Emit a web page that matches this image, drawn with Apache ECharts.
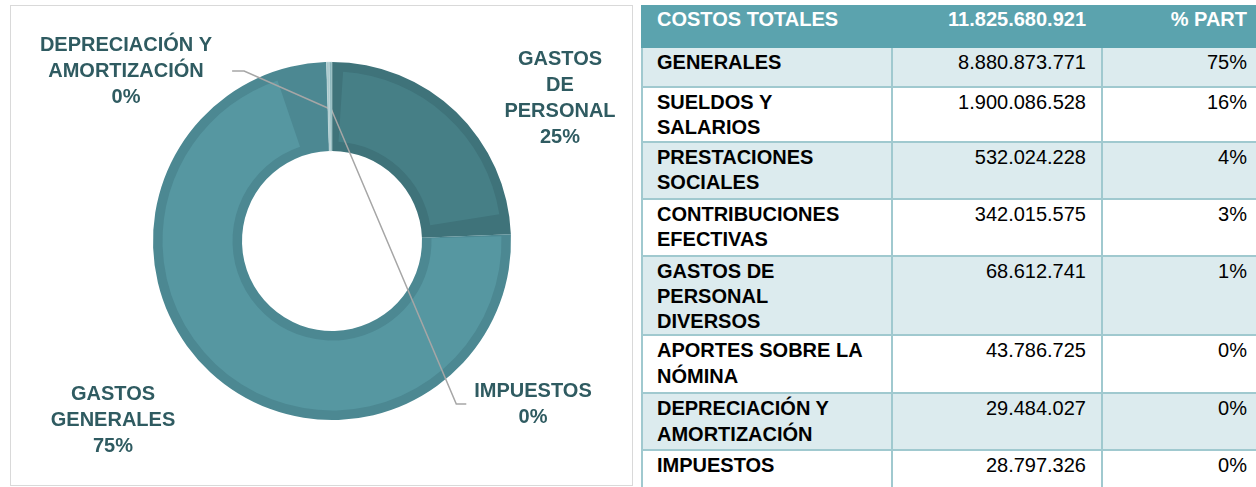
<!DOCTYPE html>
<html>
<head>
<meta charset="utf-8">
<script src="https://cdn.jsdelivr.net/npm/echarts@6/dist/echarts.min.js"></script>
<style>
  html, body { margin: 0; padding: 0; background: #fff; }
  body { width: 1256px; height: 487px; position: relative; overflow: hidden; font-family: "Liberation Sans", Arial, sans-serif; }
  .frame { position: absolute; left: 10px; top: 5px; width: 621px; height: 479px; border: 1px solid #d9d9d9; }
  #pie_chart { position: absolute; left: 0; top: 0; width: 640px; height: 487px; }
  table { position: absolute; left: 641px; top: 5px; border-collapse: collapse; table-layout: fixed; width: 619px; font-size: 20px; line-height: 25.3px; }
  td { border: 2px solid #a0c9cf; vertical-align: top; padding: 2px 14px 0 14px; white-space: pre-line; color: #000; }
  td.name { font-weight: bold; }
  td.num { text-align: right; padding-right: 15px; }
  td.pct { text-align: right; padding-right: 13px; }
  tr.head td { background: #5ba3ae; border-color: #5ba3ae; color: #fff; font-weight: bold; padding-top: 0; }
  tr.odd td { background: #dcebee; }
</style>
</head>
<body>
<div class="frame"></div>
<div id="pie_chart"></div>
<table id="cost_table">
  <colgroup><col style="width:250px"><col style="width:210px"><col style="width:159px"></colgroup>
  <tbody></tbody>
</table>
<script>
// pie data
const categories = ['GASTOS DE PERSONAL', 'GASTOS GENERALES', 'DEPRECIACIÓN Y AMORTIZACIÓN', 'IMPUESTOS'];
const labelNames = ['GASTOS\nDE\nPERSONAL', 'GASTOS\nGENERALES', 'DEPRECIACIÓN Y\nAMORTIZACIÓN', 'IMPUESTOS'];
const values = [2886525797, 8880873771, 29484027, 28797326];
const pctLabels = ['25%', '75%', '0%', '0%'];

// table data
const totalLabel = 'COSTOS TOTALES';
const totalValue = 11825680921;
const totalPctLabel = '% PART';
const rowNames = ['GENERALES', 'SUELDOS Y\nSALARIOS', 'PRESTACIONES\nSOCIALES', 'CONTRIBUCIONES\nEFECTIVAS',
  'GASTOS DE\nPERSONAL\nDIVERSOS', 'APORTES SOBRE LA\nNÓMINA', 'DEPRECIACIÓN Y\nAMORTIZACIÓN', 'IMPUESTOS'];
const rowValues = [8880873771, 1900086528, 532024228, 342015575, 68612741, 43786725, 29484027, 28797326];
const rowPcts = ['75%', '16%', '4%', '3%', '1%', '0%', '0%', '0%'];

// layout
const headHeight = 41;
const rowHeights = [40, 52, 57, 57, 76, 58, 57, 40];
const frameColors = ['#3f737a', '#4c8892', '#a9c9cd', '#8cb6bc'];
const fillColors = ['#467f86', '#5697a1', '#a9c9cd', '#8cb6bc'];
const labelPos = [
  { x: 560, y: 98 },
  { x: 113, y: 420 },
  { x: 126, y: 71, side: 'right', gap: 20, elbow: 12 },
  { x: 533, y: 404, side: 'left', gap: 8, elbow: 10 },
];
const thin = [false, false, true, true];
const center = [332, 241];
const ring = [90, 179];
const edge = 9.5;

function fmt(n) {
  return String(n).replace(/\B(?=(\d{3})+(?!\d))/g, '.');
}

// build table
const tbody = document.querySelector('#cost_table tbody');
let html = '<tr class="head" style="height:' + headHeight + 'px"><td class="name">' + totalLabel + '</td><td class="num">' +
  fmt(totalValue) + '</td><td class="pct">' + totalPctLabel + '</td></tr>';
rowNames.forEach((name, i) => {
  html += '<tr class="' + (i % 2 === 0 ? 'odd' : 'even') + '" style="height:' + rowHeights[i] + 'px">' +
    '<td class="name">' + name + '</td><td class="num">' + fmt(rowValues[i]) + '</td><td class="pct">' + rowPcts[i] + '</td></tr>';
});
tbody.innerHTML = html;

// point in the middle of a slice, for the leader lines
const total = values.reduce((a, b) => a + b, 0);
function slicePoint(idx) {
  let before = 0;
  for (let i = 0; i < idx; i++) before += values[i];
  const a = (before + values[idx] / 2) / total * Math.PI * 2;
  const r = (ring[0] + ring[1]) / 2 - 2;
  return [center[0] + r * Math.sin(a), center[1] - r * Math.cos(a)];
}

// pie
const chartInstance = echarts.init(document.getElementById('pie_chart'));

const option = {
  animation: false,
  series: [
    {
      // darker frame of each slice
      type: 'pie',
      silent: true,
      center: center,
      radius: ring,
      startAngle: 90,
      label: { show: false },
      labelLine: { show: false },
      data: categories.map((name, i) => ({ name: name, value: values[i], itemStyle: { color: frameColors[i] } })),
    },
    {
      // lighter inner fill
      type: 'pie',
      silent: true,
      center: center,
      radius: [ring[0] + edge, ring[1] - edge],
      startAngle: 90,
      padAngle: 7.5,
      label: { show: false },
      labelLine: { show: false },
      data: categories.map((name, i) => ({
        name: name,
        value: values[i],
        itemStyle: { color: thin[i] ? 'rgba(0,0,0,0)' : fillColors[i] },
      })),
    },
    {
      // thin slices on top + labels
      type: 'pie',
      z: 5,
      center: center,
      radius: ring,
      startAngle: 90,
      avoidLabelOverlap: false,
      label: {
        show: true,
        position: 'outside',
        fontFamily: 'Liberation Sans, Arial, sans-serif',
        fontWeight: 'bold',
        fontSize: 20,
        lineHeight: 26,
        color: '#2f5b61',
        align: 'center',
        formatter: (p) => labelNames[p.dataIndex] + '\n' + pctLabels[p.dataIndex],
      },
      labelLine: { show: false, lineStyle: { color: '#a6a6a6', width: 1.5 } },
      labelLayout: function (params) {
        const p = labelPos[params.dataIndex];
        const out = { x: p.x, y: p.y, align: 'center', verticalAlign: 'middle' };
        if (p.side) {
          const half = params.labelRect.width / 2;
          const s = slicePoint(params.dataIndex);
          const ex = p.side === 'right' ? p.x + half + p.gap : p.x - half - p.gap;
          const bx = p.side === 'right' ? ex + p.elbow : ex - p.elbow;
          out.labelLinePoints = [s, [bx, p.y], [ex, p.y]];
        }
        return out;
      },
      data: categories.map((name, i) => ({
        name: name,
        value: values[i],
        itemStyle: thin[i]
          ? { color: fillColors[i], borderColor: '#cfe0e2', borderWidth: 0.5 }
          : { color: 'rgba(0,0,0,0)' },
        labelLine: { show: thin[i] },
      })),
    },
  ],
};
chartInstance.setOption(option);
</script>
</body>
</html>
